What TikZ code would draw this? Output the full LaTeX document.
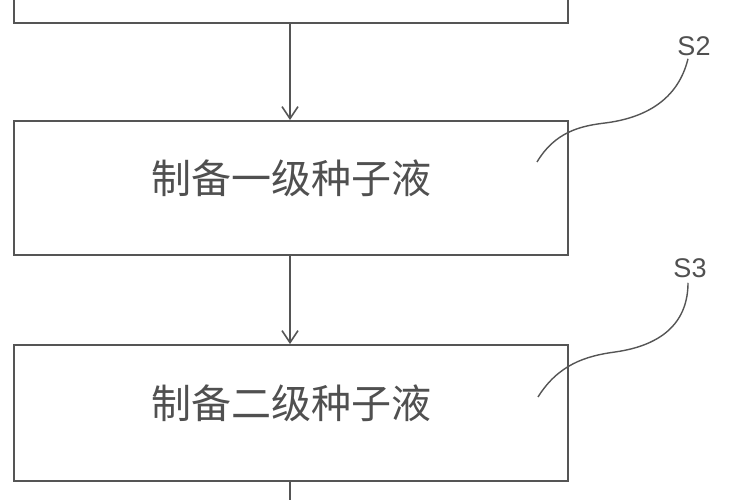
\documentclass[tikz,border=0pt]{standalone}
\usepackage{fontspec}
\newfontfamily\cjk{Noto Sans CJK SC}
\newfontfamily\lab{Liberation Sans}
\usetikzlibrary{arrows.meta}
\definecolor{ink}{HTML}{555555}
\definecolor{txt}{HTML}{505050}
\tikzset{
  stepbox/.style={draw=ink, line width=1.9pt, minimum width=554pt, inner sep=0pt, font=\cjk\fontsize{40}{42}\selectfont, text=txt},
  flow/.style={draw=ink, line width=1.6pt, -{Straight Barb[length=12pt,width=16pt,line width=1.6pt]}},
  leader/.style={draw=ink, line width=1.4pt},
  steplabel/.style={font=\lab\fontsize{27}{28}\selectfont, text=txt, inner sep=0pt}
}
\begin{document}
\begin{tikzpicture}[x=1pt,y=-1pt]
\useasboundingbox (0,0) rectangle (750,500);
\clip (0,0) rectangle (750,500);
\fill[white] (0,0) rectangle (750,500);
\node[stepbox, minimum height=160pt] (b1) at (291,-57) {};
\node[stepbox, minimum height=134pt] (b2) at (291,188) {\raisebox{22pt}{制备一级种子液}};
\node[stepbox, minimum height=136pt] (b3) at (291,413) {\raisebox{22pt}{制备二级种子液}};
\draw[flow] (b1.south -| 290,0) -- (b2.north -| 290,0);
\draw[flow] (b2.south -| 290,0) -- (b3.north -| 290,0);
\coordinate (end) at (290,500);
\draw[draw=ink, line width=1.6pt] (b3.south -| 290,0) -- (end);
\node[steplabel] (s2) at (694,46) {S2};
\node[steplabel] (s3) at (690,268) {S3};
\coordinate (e2) at (537,162);
\coordinate (e3) at (538,397);
\draw[leader] (s2.south) ++(-6,3) .. controls (678,100) and (645,118) .. (605,123) .. controls (580,126) and (555,132) .. (e2);
\draw[leader] (s3.south) ++(-2,5) .. controls (688,320) and (665,345) .. (615,352) .. controls (585,356) and (558,365) .. (e3);
\end{tikzpicture}
\end{document}
